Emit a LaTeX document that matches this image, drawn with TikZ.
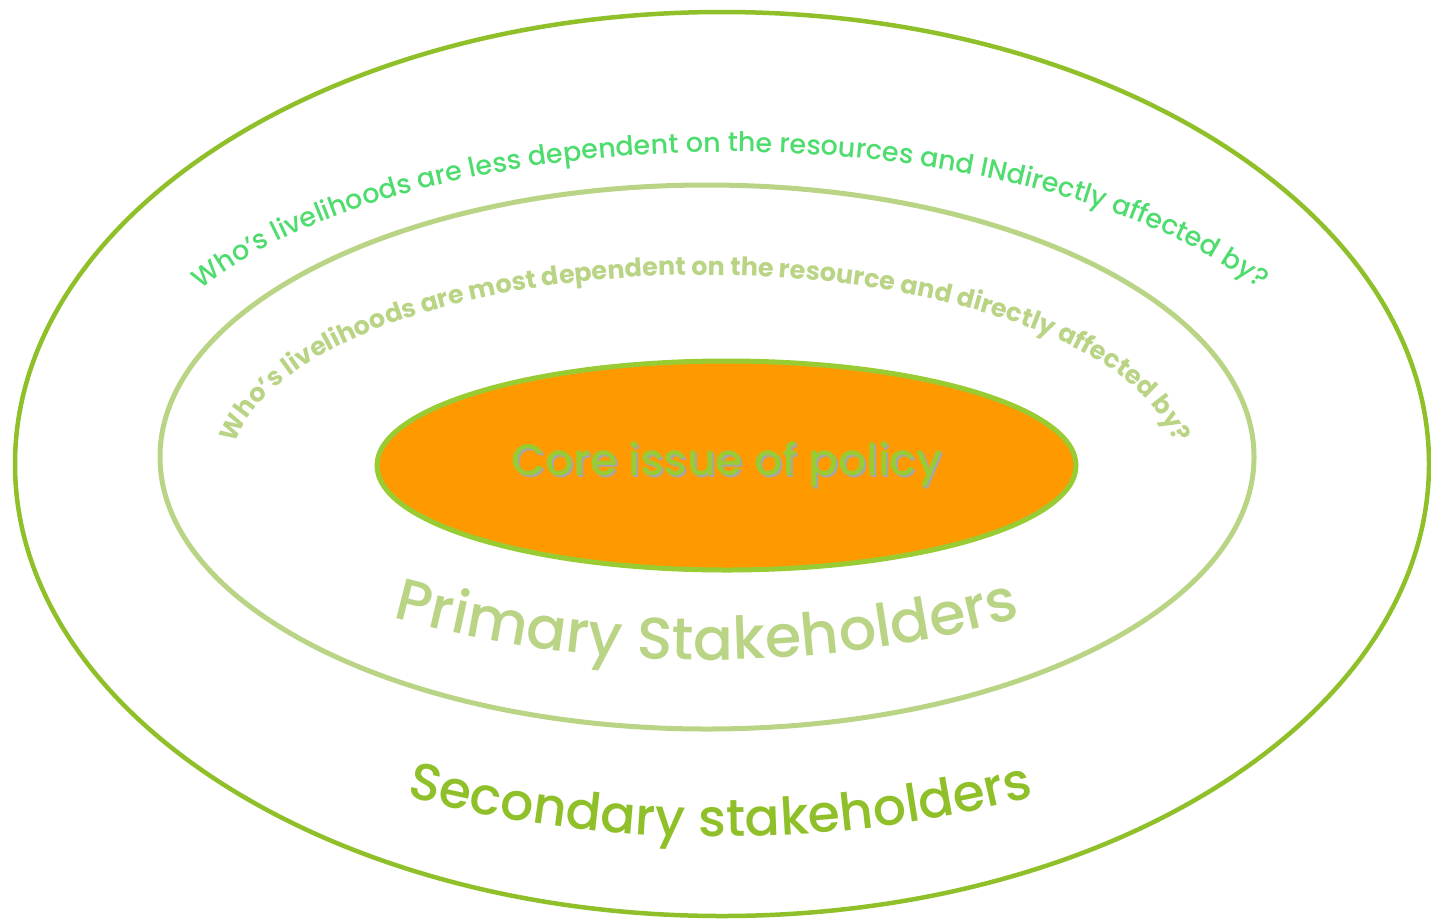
\documentclass[tikz,border=0pt]{standalone}
\usepackage{fontspec}
\setmainfont{Poppins Medium}[BoldFont=Poppins Bold]
\usetikzlibrary{shapes.geometric,decorations.text}
\definecolor{outerline}{HTML}{8FC029}
\definecolor{midline}{HTML}{BAD486}
\definecolor{coreline}{HTML}{99CC33}
\definecolor{corefill}{HTML}{FF9900}
\definecolor{qgreen}{HTML}{4FDC6E}
\definecolor{shadowgray}{HTML}{A6A6A6}
\newcommand{\dropshadow}[1]{\makebox[0pt][l]{\hspace{2pt}\raisebox{-2pt}{\textcolor{shadowgray}{#1}}}#1}
\tikzset{
  ring/.style={ellipse,inner sep=0pt,outer sep=0pt},
  arctext/.style={decorate,decoration={text along path,text align=center,text={#1}}},
}

\begin{document}
\begin{tikzpicture}[x=1pt,y=1pt]
\useasboundingbox (0,0) rectangle (1431,-922);
% rings, outermost first
\node[ring,draw=outerline,line width=4.5pt,minimum width=1414pt,minimum height=904pt] (secondary) at (722,-464) {};
\node[ring,draw=midline,line width=5pt,minimum width=1094pt,minimum height=544pt] (primary) at (707,-457) {};
\node[ring,draw=coreline,fill=corefill,line width=5pt,minimum width=699pt,minimum height=209pt,text=coreline,font=\fontsize{44}{50}\selectfont] (core) at (726.5,-465.5) {\dropshadow{Core issue of policy}};
% questions bent round the top of each ring
\path[arctext={|\fontsize{27}{30}\selectfont\color{qgreen}|Who's livelihoods are less dependent on the resources and INdirectly affected by?}] (160.5,-328.3) arc[start angle=160,end angle=20,x radius=606,y radius=268];
\path[arctext={|\fontsize{25.5}{28}\selectfont\bfseries\color{midline}|Who's livelihoods are most dependent on the resource and directly affected by?}] (238.2,-503.9) arc[start angle=190,end angle=-10,x radius=474,y radius=195];
% ring names, on a slight smile
\path[arctext={|\fontsize{59}{60}\selectfont\color{midline}|Primary Stakeholders}] (302.4,-588.7) arc[start angle=250,end angle=290,radius=1183];
\path[arctext={|\fontsize{52}{60}\selectfont\color{outerline}|Secondary stakeholders}] (294.9,-762) arc[start angle=250,end angle=290,radius=1243];
\end{tikzpicture}
\end{document}
